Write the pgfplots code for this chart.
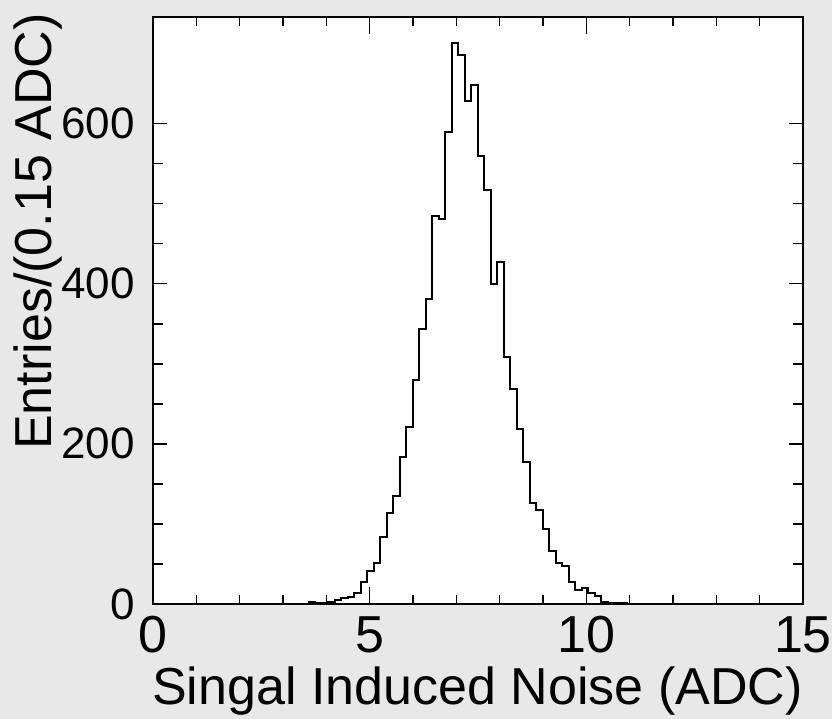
\documentclass[border=0pt]{standalone}
\usepackage{fontspec}
\setmainfont{Liberation Sans}
\usepackage{pgfplots}
\pgfplotsset{compat=1.18}
\definecolor{bg}{HTML}{E8E8E8}
\begin{document}
\begin{tikzpicture}
\fill[bg] (-76.5pt,-57.5pt) rectangle (339.5pt,302pt);
\useasboundingbox (-76.5pt,-57.5pt) rectangle (339.5pt,302pt);
\begin{axis}[
    scale only axis, width=325pt, height=293.5pt,
    at={(0,0)}, anchor=south west,
    xmin=0, xmax=15, ymin=0, ymax=733,
    axis background/.style={fill=white},
    axis line style={line width=1.2pt},
    xtick={0,5,10,15}, minor x tick num=4,
    ytick={0,200,400,600}, minor y tick num=3,
    tick align=inside,
    tick style={black, line width=0.8pt},
    xtick style={/pgfplots/major tick length=8.5pt, /pgfplots/minor tick length=4.5pt},
    ytick style={/pgfplots/major tick length=7pt, /pgfplots/minor tick length=5pt},
    /pgf/number format/assume math mode=true,
    xticklabel style={font=\fontsize{26}{30}\selectfont, anchor=base, yshift=-24pt},
    yticklabel style={font=\fontsize{22}{26}\selectfont, anchor=east, inner sep=0pt, xshift=-9pt},
    xlabel={Singal Induced Noise (ADC)},
    xlabel style={font=\fontsize{26}{30}\selectfont, at={([yshift=-50pt]rel axis cs:1,0)}, anchor=base east, inner sep=0pt},
    ylabel={Entries/(0.15 ADC)},
    ylabel style={font=\fontsize{26}{30}\selectfont, at={([xshift=-70pt,yshift=2pt]rel axis cs:0,1)}, anchor=north east, inner sep=0pt},
]
% histogram, bins of 0.15 ADC (left edge, entries)
\addplot[black, line width=1pt, const plot] coordinates {
    (0,0) (3.6,2) (3.75,1) (3.9,1) (4.05,2)
    (4.2,5) (4.35,8) (4.5,9) (4.65,14) (4.8,27) (4.95,41)
    (5.1,51) (5.25,84) (5.4,114) (5.55,135) (5.7,184) (5.85,221)
    (6.0,280) (6.15,343) (6.3,381) (6.45,485) (6.6,481) (6.75,589)
    (6.9,700) (7.05,685) (7.2,628) (7.35,648) (7.5,559) (7.65,517)
    (7.8,400) (7.95,427) (8.1,309) (8.25,268) (8.4,218) (8.55,177)
    (8.7,126) (8.85,117) (9.0,94) (9.15,66) (9.3,51) (9.45,47)
    (9.6,28) (9.75,17) (9.9,20) (10.05,14) (10.2,10) (10.35,3)
    (10.5,1) (10.65,1) (10.8,1) (10.95,0) (15,0)
};
\end{axis}
\end{tikzpicture}
\end{document}
